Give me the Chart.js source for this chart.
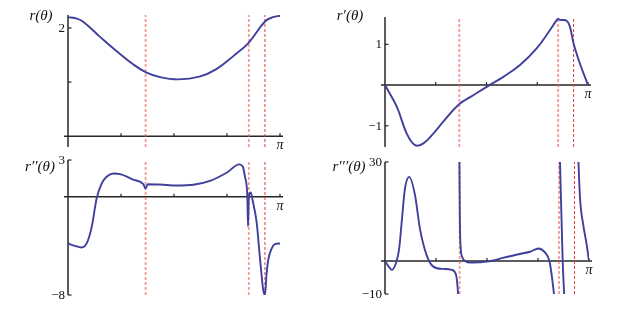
<!DOCTYPE html>
<html>
<head>
<meta charset="utf-8">
<script src="https://cdn.jsdelivr.net/npm/chart.js@4.4.1/dist/chart.umd.min.js"></script>
<style>
  html, body { margin: 0; padding: 0; background: #fff; }
  #wrap { position: relative; width: 625px; height: 313px; overflow: hidden; }
  #wrap canvas { position: absolute; left: 0; top: 0; }
</style>
</head>
<body>
<div id="wrap">
  <canvas id="cR" width="625" height="313"></canvas>
  <canvas id="cR1" width="625" height="313"></canvas>
  <canvas id="cR2" width="625" height="313"></canvas>
  <canvas id="cR3" width="625" height="313"></canvas>
</div>
<script>
// ---- data (θ given in units of π) ----
const xTickFractions = [0.25, 0.5, 0.75, 1];
const xTickLabels = ['', '', '', 'π'];
const vlineTheta = [0.366, 0.853, 0.929];

const thetaR  = [0, 0.035, 0.07, 0.15, 0.23, 0.31, 0.368, 0.434, 0.52, 0.62, 0.70, 0.78, 0.854, 0.929, 0.967, 1.0];
const valuesR = [2.10, 2.09, 2.06, 1.92, 1.785, 1.66, 1.59, 1.546, 1.525, 1.55, 1.62, 1.74, 1.868, 2.06, 2.10, 2.113];
const yTicksR = [1.5, 2];
const yTickLabelsR = ['', '2'];

const thetaR1  = [0, 0.058, 0.107, 0.148, 0.189, 0.238, 0.287, 0.365, 0.435, 0.509, 0.583, 0.665, 0.747, 0.813, 0.851, 0.862, 0.895, 0.911, 0.929, 0.96, 1.0];
const valuesR1 = [0, -0.53, -1.19, -1.475, -1.43, -1.19, -0.90, -0.47, -0.25, -0.02, 0.20, 0.49, 0.90, 1.35, 1.62, 1.60, 1.58, 1.43, 1.02, 0.53, 0];
const yTicksR1 = [1, -1];
const yTickLabelsR1 = ['1', '−1'];

const thetaR2  = [0, 0.033, 0.064, 0.088, 0.112, 0.135, 0.159, 0.182, 0.214, 0.245, 0.308, 0.355, 0.366, 0.376, 0.434, 0.513, 0.591, 0.67, 0.748, 0.808, 0.825, 0.835, 0.846, 0.849, 0.853, 0.862, 0.871, 0.89, 0.906, 0.921, 0.929, 0.937, 0.945, 0.961, 0.976, 1.0];
const valuesR2 = [-3.8, -4.0, -4.13, -3.8, -2.45, -0.14, 1.09, 1.63, 1.90, 1.85, 1.41, 1.03, 0.68, 1.03, 1.0, 0.92, 0.98, 1.30, 1.96, 2.64, 2.45, 1.6, 0, -2.4, 0, 0.35, -0.3, -2.1, -5.1, -7.6, -8, -6.2, -5.1, -4.2, -3.85, -3.8];
const yTicksR2 = [3, -8];
const yTickLabelsR2 = ['3', '−8'];

const thetaR3  = [0, 0.016, 0.033, 0.057, 0.07, 0.082, 0.098, 0.119, 0.147, 0.171, 0.204, 0.237, 0.286, 0.327, 0.348, 0.356, 0.36, 0.362, 0.3645, 0.367, 0.371, 0.38, 0.392, 0.42, 0.46, 0.5, 0.583, 0.665, 0.711, 0.752, 0.784, 0.806, 0.817, 0.828, 0.832, 0.845, 0.857, 0.871, 0.88, 0.91, 0.947, 0.956, 0.972, 0.989, 1.0];
const valuesR3 = [0, -1.5, -2.7, 0, 4, 11.9, 22, 25.5, 20, 9.9, 1.8, -1.7, -2.4, -2.7, -4.2, -8, -12, null, 32, 12, 4, 1, 0, -0.5, -0.4, -0.2, 1.0, 2.2, 2.8, 3.8, 2.6, 0, -4.2, -9.8, -12, null, 32, 0, -12, null, 32, 19, 10.9, 4.8, 0];
const yTicksR3 = [30, -10];
const yTickLabelsR3 = ['30', '−10'];

// ---- drawing ----
const PI = Math.PI;
const CURVE = '#3f3f9c';

const axesPlugin = {
  id: 'mathAxes',
  beforeDatasetsDraw(chart, args, o) {
    const ctx = chart.ctx, a = chart.chartArea, x = chart.scales.x, y = chart.scales.y;
    const x0 = x.getPixelForValue(0);
    const yAx = y.getPixelForValue(o.xAxisAt);
    ctx.save();
    ctx.strokeStyle = '#262626';
    ctx.lineWidth = 1.5;
    const seg = (x1, y1, x2, y2) => { ctx.beginPath(); ctx.moveTo(x1, y1); ctx.lineTo(x2, y2); ctx.stroke(); };
    seg(x0, a.top, x0, a.bottom);
    seg(a.left - 4, yAx, a.right + 3, yAx);
    ctx.lineWidth = 1.2;
    xTickFractions.forEach(t => { const px = x.getPixelForValue(t * PI); seg(px, yAx, px, yAx - 3); });
    o.yTicks.forEach(v => { const py = y.getPixelForValue(v); seg(x0, py, x0 + 3.5, py); });
    ctx.fillStyle = '#111';
    ctx.font = '13px "Liberation Serif"';
    ctx.textAlign = 'right';
    ctx.textBaseline = 'middle';
    o.yTicks.forEach((v, i) => { if (o.yLabels[i]) ctx.fillText(o.yLabels[i], x0 - 3, y.getPixelForValue(v) + 0.5); });
    ctx.font = 'italic 14px "Liberation Serif"';
    ctx.textAlign = 'center';
    ctx.textBaseline = 'top';
    xTickFractions.forEach((t, i) => { if (xTickLabels[i]) ctx.fillText(xTickLabels[i], x.getPixelForValue(t * PI), yAx + 2); });
    ctx.font = 'italic 15px "Liberation Serif"';
    ctx.textBaseline = 'middle';
    ctx.fillText(o.title, o.titleX, o.titleY);
    ctx.restore();
  }
};

function makePanel(id, theta, vals, cfg) {
  const pts = theta.map((t, i) => ({ x: t * PI, y: vals[i] }));
  const vDatasets = vlineTheta.map((t, i) => ({
    data: [{ x: t * PI, y: cfg.yMin }, { x: t * PI, y: cfg.yMax }],
    borderColor: i < 2 ? 'rgba(240,85,85,0.6)' : '#e4383c',
    borderWidth: i < 2 ? 1.8 : 1,
    borderDash: [3, 2],
    pointRadius: 0,
    tension: 0
  }));
  const curve = {
    data: pts,
    borderColor: CURVE,
    borderWidth: 1.9,
    pointRadius: 0,
    spanGaps: false
  };
  if (cfg.smooth) { curve.tension = 0.4; } else { curve.cubicInterpolationMode = 'monotone'; }
  new Chart(document.getElementById(id), {
    type: 'line',
    data: { datasets: [curve].concat(vDatasets) },
    options: {
      responsive: false,
      animation: false,
      events: [],
      layout: { padding: { left: cfg.left, top: cfg.top, right: 625 - cfg.right, bottom: 313 - cfg.bottom } },
      plugins: {
        legend: { display: false },
        tooltip: { enabled: false },
        mathAxes: { xAxisAt: cfg.xAxisAt, yTicks: cfg.yTicks, yLabels: cfg.yLabels, title: cfg.title, titleX: cfg.titleX, titleY: cfg.titleY }
      },
      scales: {
        x: { type: 'linear', min: 0, max: PI, display: false },
        y: { type: 'linear', min: cfg.yMin, max: cfg.yMax, display: false }
      }
    },
    plugins: [axesPlugin]
  });
}

makePanel('cR', thetaR, valuesR, {
  left: 68, right: 280, top: 15, bottom: 147, yMin: 0.9, yMax: 2.12, xAxisAt: 1, smooth: true,
  yTicks: yTicksR, yLabels: yTickLabelsR, title: 'r(θ)', titleX: 41, titleY: 16
});
makePanel('cR1', thetaR1, valuesR1, {
  left: 385, right: 588, top: 17, bottom: 147, yMin: -1.52, yMax: 1.67, xAxisAt: 0, smooth: true,
  yTicks: yTicksR1, yLabels: yTickLabelsR1, title: 'r′(θ)', titleX: 350, titleY: 16
});
makePanel('cR2', thetaR2, valuesR2, {
  left: 68, right: 280, top: 160, bottom: 295, yMin: -8, yMax: 3, xAxisAt: 0, smooth: false,
  yTicks: yTicksR2, yLabels: yTickLabelsR2, title: 'r′′(θ)', titleX: 40, titleY: 167
});
makePanel('cR3', thetaR3, valuesR3, {
  left: 385, right: 589, top: 162, bottom: 294, yMin: -10, yMax: 30, xAxisAt: 0, smooth: false,
  yTicks: yTicksR3, yLabels: yTickLabelsR3, title: 'r′′′(θ)', titleX: 349, titleY: 167
});
</script>
</body>
</html>
